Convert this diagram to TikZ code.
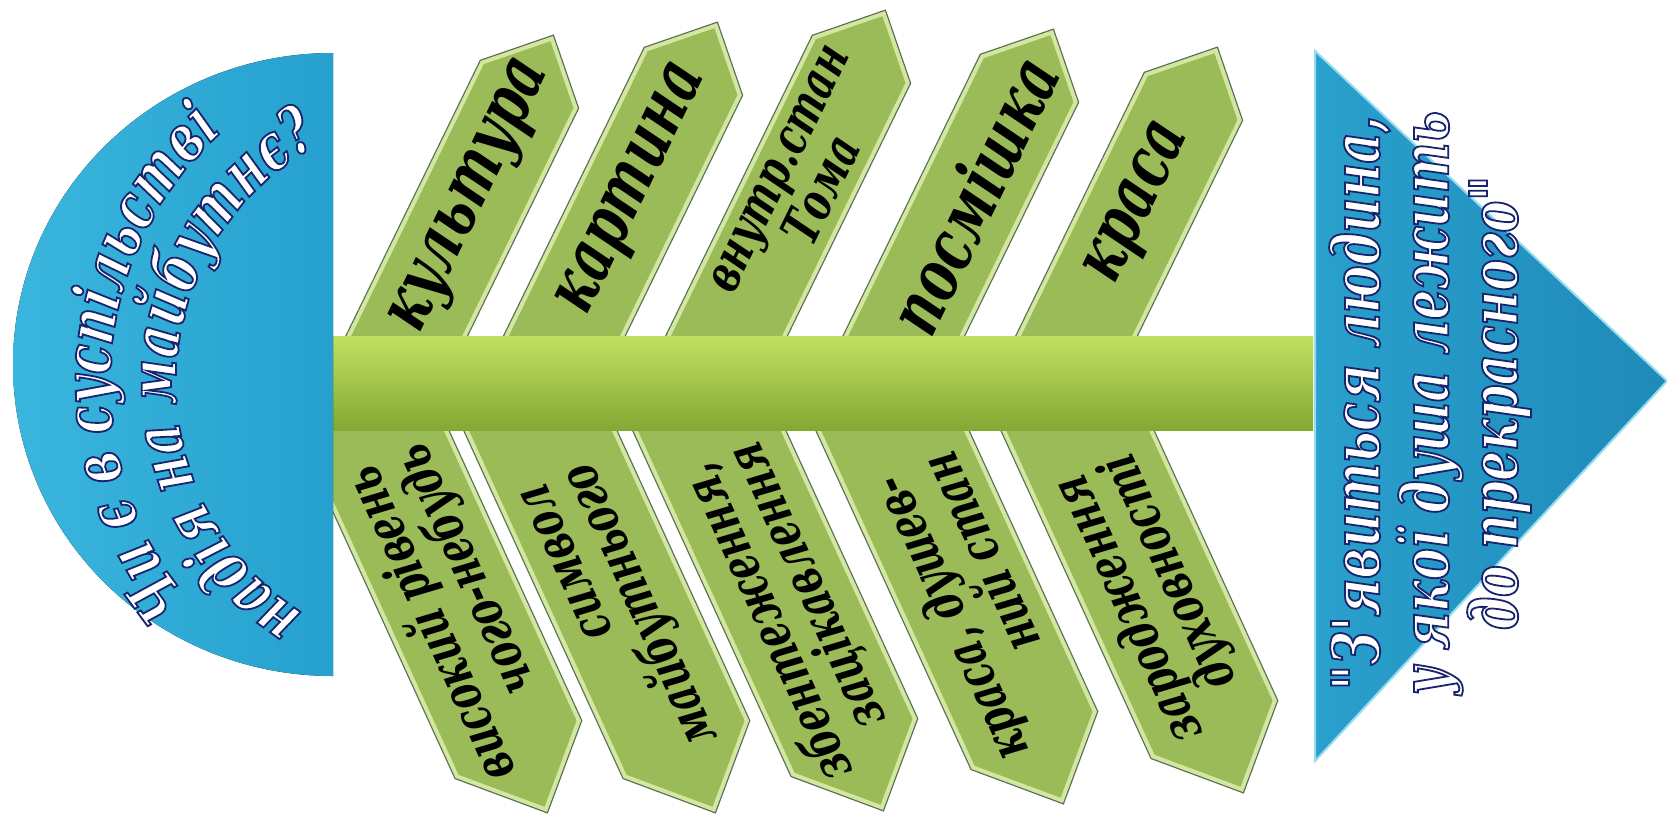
\documentclass[tikz,border=0pt]{standalone}
\usepackage{fontspec}
\setmainfont{DejaVu Serif}
\newfontfamily\bonefont[FakeStretch=0.72]{DejaVu Serif}
\newcommand\bonestyle{\bonefont\bfseries\itshape}
% white letters with a dark blue rim
\newcommand\outlined{\color{white}\special{pdf:literal direct 0.1 0.14 0.43 RG 2 Tr 1.8 w}}
\usetikzlibrary{shapes.symbols, decorations.text, calc, positioning}

\definecolor{bonegreen}{RGB}{155,187,89}
\definecolor{bonelight}{RGB}{208,232,160}
\definecolor{boneedge}{RGB}{95,105,85}
\definecolor{spinetop}{RGB}{192,224,98}
\definecolor{spinebot}{RGB}{132,168,52}
\definecolor{diskleft}{RGB}{58,182,222}
\definecolor{diskright}{RGB}{38,160,206}
\definecolor{headleft}{RGB}{42,160,205}
\definecolor{headright}{RGB}{30,138,184}
\definecolor{rimlight}{RGB}{150,220,240}

\begin{document}
\begin{tikzpicture}[
    x=1pt, y=-1pt,
    bone/.style={shape=signal, signal pointer angle=90, fill=bonegreen, draw=bonelight, line width=4pt, preaction={draw=boneedge, line width=6.5pt}, inner sep=0pt},
    upbone/.style={bone, signal to=east, rotate=64, anchor=east, minimum height=104},
    lowbone/.style={bone, signal to=west, rotate=114.6, anchor=west, minimum height=134},
    uplabel/.style={rotate=64, align=center, inner sep=0pt, font=\bonestyle\fontsize{72}{60}\selectfont},
    lowlabel/.style={rotate=114.6, align=right, inner sep=0pt, font=\bonestyle\fontsize{53}{51}\selectfont},
    spine/.style={rectangle, minimum width=980, minimum height=94, inner sep=0pt, top color=spinetop, bottom color=spinebot},
    headtext/.style={font=\bonestyle\fontsize{66}{69}\selectfont\outlined, align=center, inner sep=0pt}
]
\path[use as bounding box, fill=white] (0,0) rectangle (1667,815);

% Upper bones
\node[upbone, minimum width=386] (culture) at (553,36) {};
\node[upbone, minimum width=400] (painting) at (717,23) {};
\node[upbone, minimum width=414] (tom) at (885,11) {};
\node[upbone, minimum width=393] (smile) at (1053,30) {};
\node[upbone, minimum width=373] (beauty) at (1217,48) {};

% Lower bones
\node[lowbone, minimum width=472] (level) at (547,812) {};
\node[lowbone, minimum width=472] (symbol) at (715,812) {};
\node[lowbone, minimum width=470] (confusion) at (883,810) {};
\node[lowbone, minimum width=462] (soul) at (1063,803) {};
\node[lowbone, minimum width=450] (spirit) at (1243,792) {};

% Bone texts
\node[uplabel] (culture-t) at ($(culture.east)!0.46!(culture.west)$) {культура};
\node[uplabel] (painting-t) at ($(painting.east)!0.46!(painting.west)$) {картина};
\node[uplabel, font=\bonestyle\fontsize{52}{51}\selectfont] (tom-t) at ($(tom.east)!0.45!(tom.west)$) {внутр.стан\\Тома};
\node[uplabel] (smile-t) at ($(smile.east)!0.46!(smile.west)$) {посмішка};
\node[uplabel] (beauty-t) at ($(beauty.east)!0.46!(beauty.west)$) {краса};

\node[lowlabel] (level-t) at ($(level.west)!0.46!(level.east)$) {високий рівень\\чого-небудь};
\node[lowlabel] (symbol-t) at ($(symbol.west)!0.46!(symbol.east)$) {символ\\майбутнього};
\node[lowlabel] (confusion-t) at ($(confusion.west)!0.46!(confusion.east)$) {збентеження,\\зацікавлення};
\node[lowlabel] (soul-t) at ($(soul.west)!0.46!(soul.east)$) {краса, душев-\\ний стан};
\node[lowlabel] (spirit-t) at ($(spirit.west)!0.47!(spirit.east)$) {зародження\\духовності};

% Spine
\node[spine] (spine) at (823,383) {};

% Tail: question
\fill[left color=diskleft, right color=diskright] (333,53) arc[start angle=270, end angle=90, x radius=320, y radius=311.5] -- cycle;
\path[decorate, decoration={text along path, text align=center,
    text={|\bonestyle\fontsize{66}{66}\selectfont\outlined|Чи є в суспільстві}}]
    (448,383) ++(134:338) arc[start angle=134, end angle=234, radius=338];
\path[decorate, decoration={text along path, text align=center,
    text={|\bonestyle\fontsize{66}{66}\selectfont\outlined|надія на майбутнє?}}]
    (448,383) ++(124:272) arc[start angle=124, end angle=240, radius=272];

% Head: answer
\filldraw[left color=headleft, right color=headright, draw=rimlight, line width=2pt] (1315,51) -- (1667,381) -- (1315,761) -- cycle;
\node[headtext, rotate=90] (answer) at (1430,403) {"З'явиться людина,\\у якої душа лежить\\до прекрасного"};

\end{tikzpicture}
\end{document}
